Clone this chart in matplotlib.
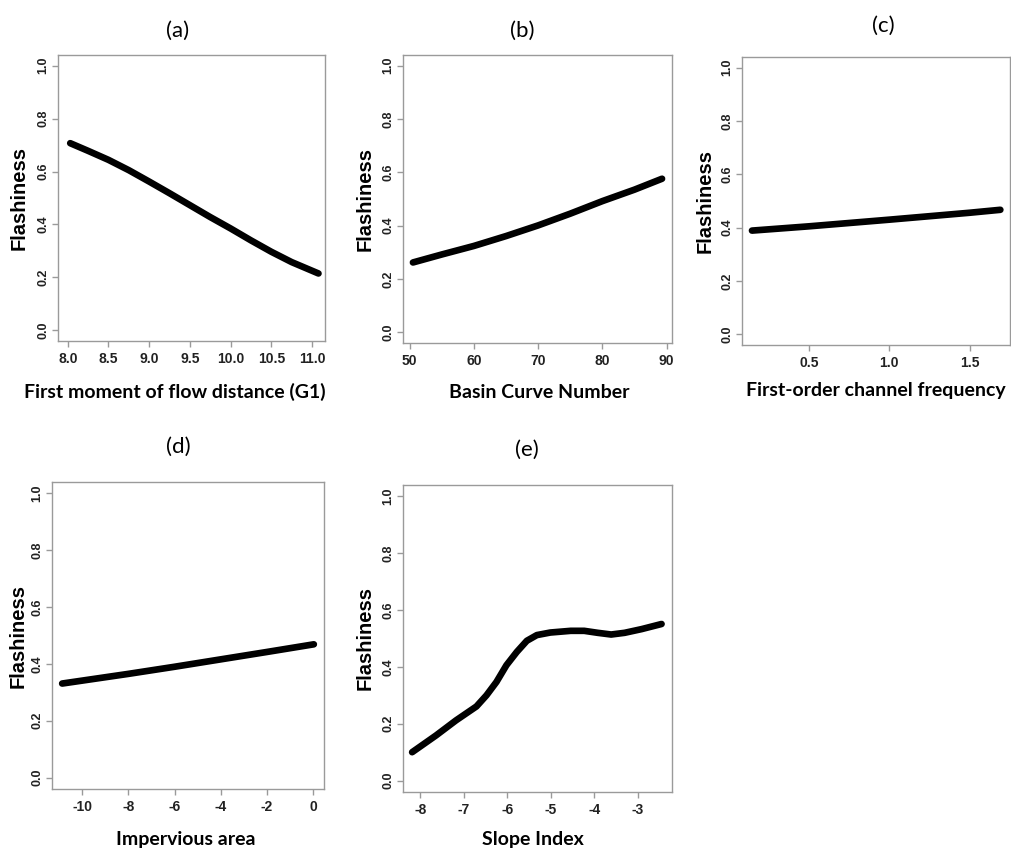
import numpy as np
import matplotlib
matplotlib.use("Agg")
import matplotlib.pyplot as plt

# values
g1_x = [8.03, 8.25, 8.5, 8.75, 9.0, 9.25, 9.5, 9.75, 10.0, 10.25, 10.5, 10.75, 11.08]
g1_y = [0.707, 0.678, 0.644, 0.605, 0.562, 0.518, 0.473, 0.428, 0.385, 0.340, 0.297, 0.258, 0.215]

cn_x = [50.5, 55, 60, 65, 70, 75, 80, 85, 89.3]
cn_y = [0.262, 0.292, 0.324, 0.361, 0.401, 0.445, 0.492, 0.535, 0.576]

fo_x = [0.146, 0.5, 1.0, 1.5, 1.69]
fo_y = [0.389, 0.405, 0.430, 0.456, 0.467]

imp_x = [-10.87, -8, -6, -4, -2, 0.04]
imp_y = [0.331, 0.365, 0.390, 0.416, 0.442, 0.469]

slope_x = [-8.19, -7.64, -7.18, -6.71, -6.48, -6.25, -6.02, -5.78, -5.55, -5.32,
           -5.01, -4.54, -4.23, -3.92, -3.61, -3.30, -2.91, -2.45]
slope_y = [0.100, 0.159, 0.212, 0.261, 0.300, 0.347, 0.406, 0.453, 0.492, 0.512,
           0.521, 0.527, 0.527, 0.520, 0.514, 0.520, 0.533, 0.551]

yticks = [0.0, 0.2, 0.4, 0.6, 0.8, 1.0]

W, H = 1012, 852
ARIAL = ["Liberation Sans", "DejaVu Sans"]
HUMAN = ["Lato", "DejaVu Sans"]

fig = plt.figure(figsize=(W / 100, H / 100), dpi=100)


def px_axes(left, top, right, bottom):
    return fig.add_axes([left / W, 1 - bottom / H, (right - left) / W, (bottom - top) / H])


def panel(box, x, y, xlim, xticks, xfmt, title, title_xy, xlabel, xlabel_xy, ylab_x):
    ax = px_axes(*box)
    ax.plot(x, y, color="black", lw=4.8, solid_capstyle="round", solid_joinstyle="round")
    ax.set_xlim(*xlim)
    ax.set_ylim(-0.04, 1.04)
    for s in ax.spines.values():
        s.set_color("#9a9a9a")
        s.set_linewidth(1.0)
    ax.set_xticks(xticks)
    ax.set_xticklabels([xfmt(v) for v in xticks],
                       fontfamily=ARIAL, fontweight="bold", fontsize=10, color="#222222")
    ax.set_yticks(yticks)
    ax.set_yticklabels(["%.1f" % v for v in yticks], rotation=90, va="center",
                       fontfamily=ARIAL, fontweight="bold", fontsize=9, color="#222222")
    ax.tick_params(axis="both", direction="out", length=4, width=1, color="#9a9a9a", pad=4)
    ax.tick_params(axis="y", pad=2)
    fig.text(ylab_x / W, 1 - ((box[1] + box[3]) / 2) / H, "Flashiness", rotation=90,
             ha="center", va="center", fontfamily=ARIAL, fontweight="bold", fontsize=14.5)
    fig.text(title_xy[0] / W, 1 - title_xy[1] / H, title, ha="center", va="center",
             fontfamily=HUMAN, fontsize=16)
    fig.text(xlabel_xy[0] / W, 1 - xlabel_xy[1] / H, xlabel, ha="center", va="center",
             fontfamily=HUMAN, fontweight="bold", fontsize=14)
    return ax


panel((58, 55, 325, 341), g1_x, g1_y, (7.88, 11.16), [8.0, 8.5, 9.0, 9.5, 10.0, 10.5, 11.0],
      lambda v: "%.1f" % v, "(a)", (178, 31), "First moment of flow distance (G1)", (175, 392), 19)
panel((403, 55, 672, 343), cn_x, cn_y, (48.95, 90.85), [50, 60, 70, 80, 90],
      lambda v: "%d" % v, "(b)", (522, 31), "Basin Curve Number", (539, 392), 365)
panel((742, 57, 1010, 345), fo_x, fo_y, (0.084, 1.75), [0.5, 1.0, 1.5],
      lambda v: "%.1f" % v, "(c)", (883, 26), "First-order channel frequency", (876, 390), 705)
panel((52, 482, 324, 789), imp_x, imp_y, (-11.31, 0.48), [-10, -8, -6, -4, -2, 0],
      lambda v: "%d" % v, "(d)", (178, 447), "Impervious area", (186, 840), 18)
panel((403, 485, 672, 792), slope_x, slope_y, (-8.40, -2.21), [-8, -7, -6, -5, -4, -3],
      lambda v: "%d" % v, "(e)", (527, 450), "Slope Index", (533, 840), 365)

fig.savefig("out.png", dpi=100, facecolor="white")
